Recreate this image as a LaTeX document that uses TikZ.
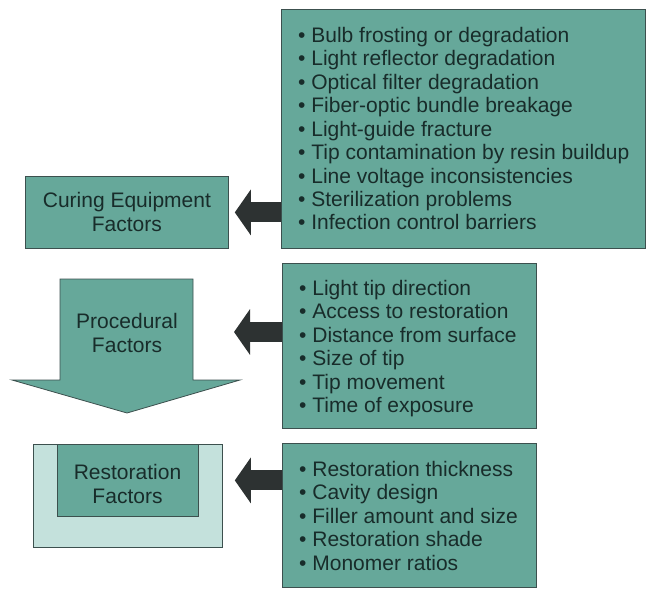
\documentclass[tikz,border=0pt]{standalone}
\usepackage{fontspec}
\setmainfont{Liberation Sans}
\usetikzlibrary{arrows.meta}
\definecolor{tealbox}{RGB}{102,168,154}
\definecolor{lightbox}{RGB}{196,225,220}
\definecolor{edgec}{RGB}{60,80,78}
\definecolor{txtc}{RGB}{24,44,42}
\definecolor{arrowc}{RGB}{45,50,50}
\newcommand{\lstbody}[1]{\begin{tabular}[t]{@{}l@{}}#1\end{tabular}}
\begin{document}
\begin{tikzpicture}[x=1pt,y=-1pt,
  box/.style={draw=edgec, line width=0.8pt, fill=tealbox, inner sep=0pt, anchor=north west},
  lightrect/.style={draw=edgec, line width=0.8pt, fill=lightbox, inner sep=0pt, anchor=north west},
  lst/.style={anchor=base west, align=left, font=\fontsize{21}{23.5}\selectfont, text=txtc, inner sep=0pt},
  lbl/.style={align=center, font=\fontsize{21}{24}\selectfont, text=txtc, inner sep=0pt},
  bigarrow/.style={draw=arrowc, line width=20pt, -{Triangle[width=45pt,length=16pt]}}]
\useasboundingbox (0,0) rectangle (648,589);
% boxes
\node[box, minimum width=364pt, minimum height=239pt] (b1) at (281,9) {};
\node[box, minimum width=254pt, minimum height=165pt] (b2) at (282,263) {};
\node[box, minimum width=254pt, minimum height=144pt] (b3) at (282,443) {};
% lists
\node[lst] (t1) at (298,42) {\lstbody{• Bulb frosting or degradation\\• Light reflector degradation\\• Optical filter degradation\\• Fiber-optic bundle breakage\\• Light-guide fracture\\• Tip contamination by resin buildup\\• Line voltage inconsistencies\\• Sterilization problems\\• Infection control barriers}};
\node[lst] (t2) at (299,295) {\lstbody{• Light tip direction\\• Access to restoration\\• Distance from surface\\• Size of tip\\• Tip movement\\• Time of exposure}};
\node[lst] (t3) at (299,476) {\lstbody{• Restoration thickness\\• Cavity design\\• Filler amount and size\\• Restoration shade\\• Monomer ratios}};
% curing equipment
\node[box, minimum width=203pt, minimum height=72pt] (cur) at (25,176) {};
\node[lbl] (curl) at (cur.center) {Curing Equipment\\Factors};
% procedural block arrow
\coordinate (pa) at (60,279);
\coordinate (pb) at (193,279);
\coordinate (pc) at (193,380);
\coordinate (pd) at (240,380);
\coordinate (pe) at (127,413);
\coordinate (pf) at (12,380);
\coordinate (pg) at (60,380);
\draw[draw=edgec, line width=0.8pt, fill=tealbox] (pa) -- (pb) -- (pc) -- (pd) -- (pe) -- (pf) -- (pg) -- cycle;
\node[lbl] (proc) at (127,333) {Procedural\\Factors};
\coordinate (ptip) at (234,332);
% restoration
\node[lightrect, minimum width=189pt, minimum height=103pt] (rout) at (33,444) {};
\node[box, minimum width=141pt, minimum height=72pt] (rin) at (57,444) {};
\node[lbl] (rest) at (127.5,484) {Restoration\\Factors};
% arrows
\draw[bigarrow, shorten >=6pt] (cur.east -| b1.west) -- (cur.east);
\draw[bigarrow] (ptip -| b2.west) -- (ptip);
\draw[bigarrow, shorten >=12pt] (rin.east -| b3.west) -- (rin.east -| rout.east);
\end{tikzpicture}
\end{document}
